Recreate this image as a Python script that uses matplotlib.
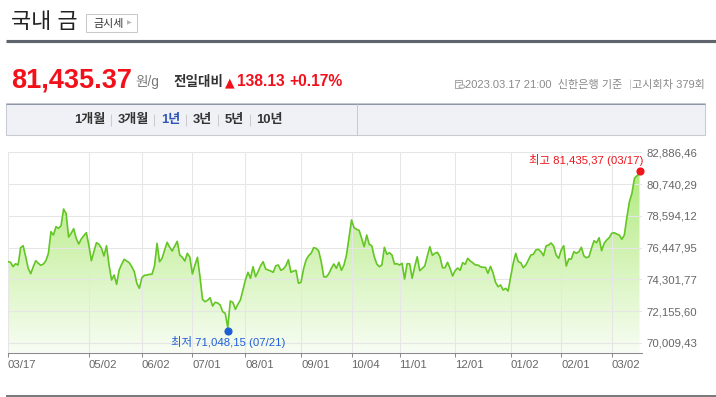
import numpy as np
import pandas as pd
import matplotlib
matplotlib.use('Agg')
import matplotlib.pyplot as plt
from matplotlib.colors import LinearSegmentedColormap
from matplotlib.patches import Rectangle, Circle
from matplotlib.lines import Line2D
from matplotlib.transforms import offset_copy

plt.rcParams['font.family'] = ['Liberation Sans', 'Noto Sans CJK KR']

# trading days of Shinhan bank, 2022-03-17 .. 2023-03-17
holidays = ['2022-05-05', '2022-06-01', '2022-06-06', '2022-08-15', '2022-09-09',
            '2022-09-12', '2022-10-03', '2022-10-10', '2023-01-23', '2023-01-24',
            '2023-03-01']
dates = pd.bdate_range('2022-03-17', '2023-03-17', freq='C', holidays=holidays)
day_labels = list(dates.strftime('%m/%d'))

# gold price (won/g), one value per trading day
price = [
    75498, 75458, 75161, 75363, 75276, 76444, 76579, 75836, 75053, 74688,
    75161, 75566, 75390, 75255, 75343, 75566, 76066, 77524, 77301, 77862,
    77753, 77929, 79057, 78766, 77166, 77416, 77727, 77078, 76693, 77031,
    77254, 77457, 76626, 75566, 76174, 76781, 76673, 76403, 75883, 76579,
    75276, 74263, 74600, 73972, 74938, 75323, 75660, 75546, 75431, 75161,
    74823, 74040, 73702, 74418, 74580, 74600, 74648, 74648, 75208, 76741,
    75498, 75728, 76288, 76808, 76471, 76221, 76558, 76876, 75951, 75795,
    75546, 76066, 75795, 74668, 75276, 75795, 74486, 72960, 72798, 72892,
    73068, 72507, 72757, 72710, 72575, 72122, 72014, 71048.15, 72845, 72757,
    72284, 72622, 72912, 73588, 74263, 74783, 74378, 75161, 74486, 74823,
    75228, 75498, 75005, 74938, 74870, 74783, 75228, 75276, 74918, 75005,
    75228, 75633, 74783, 74870, 74918, 74040, 74107, 75005, 75613, 75903,
    76066, 76444, 76403, 76221, 75498, 74486, 74465, 74688, 75053, 75343,
    75053, 75458, 74918, 75276, 75951, 77119, 78314, 77794, 77686, 77618,
    77078, 76511, 77301, 76673, 76579, 75836, 75343, 75161, 75276, 76471,
    75998, 76106, 75951, 75343, 75363, 75276, 75390, 74330, 75363, 75363,
    74378, 75161, 75836, 74891, 75053, 75208, 75883, 76511, 75931, 76066,
    76133, 75836, 75093, 75093, 75458, 75053, 74533, 74891, 75073, 74918,
    75431, 75323, 75728, 75546, 75431, 75276, 75276, 75161, 75120, 75120,
    74715, 75188, 74756, 74107, 73810, 73925, 73588, 73702, 73520, 74486,
    75390, 76066, 75498, 75431, 75093, 75276, 75613, 75951, 75998, 76300,
    76336, 76174, 75903, 76558, 76626, 76761, 76558, 75951, 75728, 76288,
    76579, 75208, 75681, 75681, 76174, 76066, 76174, 76471, 75883, 75768,
    75836, 76403, 76916, 76781, 77119, 76241, 76741, 76964, 77119, 77416,
    77457, 77369, 77301, 77011, 77301, 78496, 79550, 80117, 81130, 81305,
    81435.37,
]

ytick_vals = [70009.43, 72155.60, 74301.77, 76447.95, 78594.12, 80740.29, 82886.46]
xtick_labels = ['03/17', '05/02', '06/02', '07/01', '08/01', '09/01', '10/04',
                '11/01', '12/01', '01/02', '02/01', '03/02']

tabs = ['1개월', '3개월', '1년', '3년', '5년', '10년']


def won(v):
    return f'{v:,.2f}'.replace('.', ',')


W, H = 716, 397
PX = 0.75
fig = plt.figure(figsize=(W / 100, H / 100), dpi=100)


def fx(x):
    return x / W


def fy(y):
    return 1 - y / H


def hline(x0, x1, y, color, lw):
    fig.add_artist(Line2D([fx(x0), fx(x1)], [fy(y), fy(y)], color=color, lw=lw * PX,
                          transform=fig.transFigure, solid_capstyle='butt'))


def vline(x, y0, y1, color, lw):
    fig.add_artist(Line2D([fx(x), fx(x)], [fy(y0), fy(y1)], color=color, lw=lw * PX,
                          transform=fig.transFigure, solid_capstyle='butt'))


def box(x0, y0, x1, y1, fc, ec, lw=1):
    fig.add_artist(Rectangle((fx(x0), fy(y1)), (x1 - x0) / W, (y1 - y0) / H,
                             transform=fig.transFigure, facecolor=fc, edgecolor=ec,
                             lw=lw * PX))


# ---- header
fig.text(fx(11), fy(27.5), '국내 금', fontsize=21 * PX, color='#222222', va='baseline')
box(86, 13.5, 136.5, 31.5, 'white', '#c9c9c9')
fig.text(fx(93), fy(27), '금시세', fontsize=10.5 * PX, color='#333333', va='baseline')
fig.text(fx(126.5), fy(22.5), '▶', fontsize=4.5, color='#b5b5b5', va='center',
         family=['DejaVu Sans'])
hline(6, 716, 41.3, '#5f636c', 3)

red = '#f2111b'
fig.text(fx(11), fy(87.3), '81,435.37', fontsize=26 * PX, weight='bold', color=red,
         va='baseline')
fig.text(fx(135.5), fy(86), '원/g', fontsize=13 * PX, color='#777777', va='baseline')
fig.text(fx(173), fy(86), '전일대비', fontsize=13 * PX, weight='bold', color='#333333',
         va='baseline')
fig.text(fx(225), fy(86), '▲', fontsize=12 * PX, color=red, va='baseline',
         family=['DejaVu Sans'])
fig.text(fx(237.5), fy(86), '138.13', fontsize=15 * PX, weight='bold', color=red,
         va='baseline')
fig.text(fx(289), fy(86), '+0.17%', fontsize=15 * PX, weight='bold', color=red,
         va='baseline')

# small calendar icon + info text
box(454.5, 79.5, 462, 88, 'white', '#a8a8a8')
hline(455, 461.5, 82, '#a8a8a8', 1)
fig.add_artist(Circle((fx(462), fy(86.5)), 3 / W, transform=fig.transFigure,
                      facecolor='white', edgecolor='#a8a8a8', lw=0.75))
gray = '#8a8a8a'
fig.text(fx(622), fy(88), '2023.03.17 21:00  신한은행 기준', fontsize=8.0, color=gray,
         ha='right', va='baseline')
vline(629.5, 78.5, 89, '#d0d0d0', 1)
fig.text(fx(705), fy(88), '고시회차 379회', fontsize=8.0, color=gray, ha='right',
         va='baseline')

# ---- period tabs
box(6, 103.5, 705, 135, '#eff1f6', '#c6cad3')
hline(6, 705, 103.8, '#8e96a8', 1)
vline(357, 104, 135, '#c6cad3', 1)
tab_x = [90, 133, 170.5, 202.5, 234, 269]
sep_x = [111, 154, 186, 218, 250]
for i, (name, cx) in enumerate(zip(tabs, tab_x)):
    fig.text(fx(cx), fy(120), name, fontsize=12.5 * PX, weight='bold',
             color='#2e54b8' if i == 2 else '#333333', ha='center', va='center')
for sx in sep_x:
    vline(sx, 114, 126, '#cccccc', 1)

# ---- chart
ax = fig.add_axes([fx(8), fy(352.7), 633.7 / W, 200.9 / H])
x = np.arange(len(price))
y0, y1 = 69354, 82920

poly = ax.fill_between(x, price, y0, facecolor='none', edgecolor='none')
cmap = LinearSegmentedColormap.from_list('gold', ['#f8fdf4', '#b3eb80'])
grad = np.linspace(0, 1, 256).reshape(-1, 1)
im = ax.imshow(grad, cmap=cmap, aspect='auto', origin='lower',
               extent=[0, x[-1], y0, max(price)], zorder=1)
im.set_clip_path(poly.get_paths()[0], transform=ax.transData)

ax.plot(x, price, color='#63c624', lw=1.6 * PX, zorder=3)

ax.set_xlim(0, 250.87)
ax.set_ylim(y0, y1)

xtick_pos = [day_labels.index(l) for l in xtick_labels]
ax.set_xticks(xtick_pos)
ax.set_xticklabels(xtick_labels, ha='left')
ax.set_yticks(ytick_vals)
ax.set_yticklabels([won(v) for v in ytick_vals])
ax.yaxis.tick_right()
ax.grid(True, color='#e6e6e6', lw=PX)
ax.set_axisbelow('line')
for s in ['top', 'left', 'right']:
    ax.spines[s].set_visible(False)
ax.spines['bottom'].set_color('#8a8a8a')
ax.spines['bottom'].set_linewidth(PX)
ax.tick_params(axis='x', length=4 * PX, width=PX, color='#8a8a8a', labelsize=8.2,
               labelcolor='#666666', pad=2.5)
ax.tick_params(axis='y', length=0, labelsize=8.2, labelcolor='#666666', pad=3.2)
ax.set_facecolor('white')

# min / max markers
i_min = int(np.argmin(price))
i_max = int(np.argmax(price))
ax.plot(i_min, price[i_min], 'o', color='#1f5fd6', ms=6.5 * PX, zorder=4,
        transform=offset_copy(ax.transData, fig, y=-3.5 * PX, units='points'))
ax.plot(i_max, price[i_max], 'o', color='#f0141c', ms=6.5 * PX, zorder=4, clip_on=False,
        transform=offset_copy(ax.transData, fig, y=2.5 * PX, units='points'))
ax.annotate(f'최저 {won(price[i_min])} ({day_labels[i_min]})', (i_min, price[i_min]),
            xytext=(0.7 * PX, -14 * PX), textcoords='offset points', ha='center',
            va='center', fontsize=8.2, color='#1f5fd6', zorder=5)
ax.annotate(f'최고 {won(price[i_max])} ({day_labels[i_max]})', (i_max, price[i_max]),
            xytext=(3.5 * PX, 13 * PX), textcoords='offset points', ha='right',
            va='center', fontsize=8.2, color='#f0141c', zorder=5, annotation_clip=False)

hline(6, 716, 396.3, '#555555', 1.5)

fig.savefig('out.png', dpi=100, facecolor='white')
